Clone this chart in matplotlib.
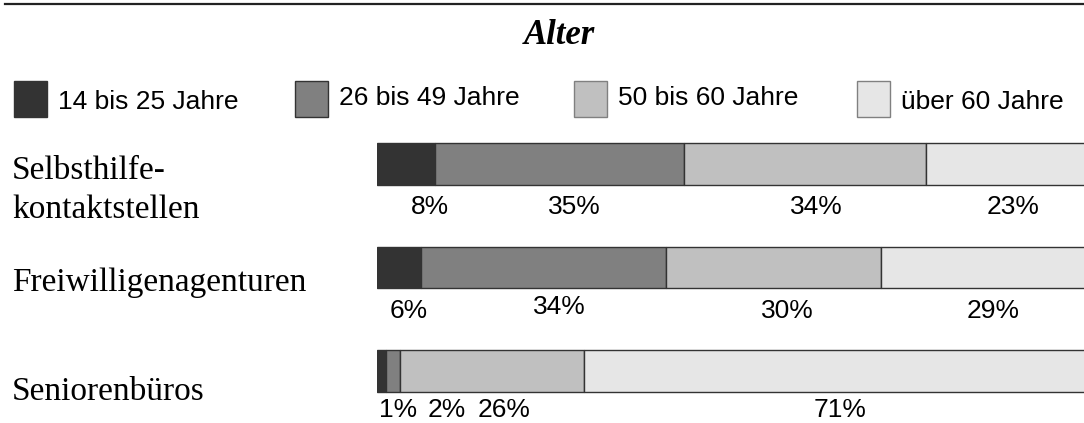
import matplotlib.pyplot as plt
from matplotlib.patches import Rectangle
from matplotlib.lines import Line2D
from matplotlib.transforms import blended_transform_factory

# Daten (Anteile in Prozent)
kategorien = ['Selbsthilfe-\nkontaktstellen', 'Freiwilligenagenturen', 'Seniorenbüros']
altersgruppen = ['14 bis 25 Jahre', '26 bis 49 Jahre', '50 bis 60 Jahre', 'über 60 Jahre']
jahre_14_25 = [8.1, 6.2, 1.3]
jahre_26_49 = [35.0, 34.4, 2.0]
jahre_50_60 = [34.0, 30.2, 25.8]
ueber_60 = [22.9, 29.2, 70.9]

farben = ['#333333', '#808080', '#c0c0c0', '#e6e6e6']
randfarben = ['#333333', '#333333', '#808080', '#808080']

# Verschiebung der Prozentbeschriftungen (wie im Original von Hand gesetzt)
label_dx = [[3.4, 2.1, 1.6, 0.8],
            [1.3, 2.2, 1.9, 1.1],
            [2.3, 7.5, 1.6, 0.5]]
label_dy = [[0, 0, 0, 0],
            [0, -0.04, 0, 0],
            [-0.04, -0.04, -0.04, -0.04]]

W, H = 1084, 423
fig = plt.figure(figsize=(W / 100, H / 100), dpi=100)

ax = fig.add_axes([377 / W, 0, 1 - 377 / W, (H - 112.25) / H])
ax.set_xlim(0, 99.3)
ax.set_ylim(2.5, -0.5)
ax.axis('off')

reihen = [jahre_14_25, jahre_26_49, jahre_50_60, ueber_60]
links = [0.0] * len(kategorien)
for j, werte in enumerate(reihen):
    ax.barh(range(len(kategorien)), werte, left=links, height=0.4,
            color=farben[j], edgecolor='#333333', linewidth=1.0)
    for i, v in enumerate(werte):
        x = links[i] + v / 2 + label_dx[i][j]
        ax.text(x, i + 0.485 + label_dy[i][j], f'{round(v)}%',
                ha='center', va='baseline', fontsize=19,
                family='Liberation Sans', color='black')
    links = [l + v for l, v in zip(links, werte)]

# Kategorienamen links
trans = blended_transform_factory(fig.transFigure, ax.transData)
namen_dy = [0.25, 0.15, 0.2]
for i, name in enumerate(kategorien):
    ax.text(12 / W, i + namen_dy[i], name, transform=trans, ha='left',
            va='center', fontsize=24, family='Liberation Serif',
            linespacing=1.35)

# Titel und Linie oben
fig.add_artist(Line2D([5 / W, 1], [1 - 4.5 / H] * 2, lw=1.6, color='#222222'))
fig.text(559 / W, 1 - 35 / H, 'Alter', ha='center', va='center', fontsize=25,
         family='Liberation Serif', style='italic', weight='bold')

# Legende
box_x = [14, 295, 574, 857]
text_base = [109, 105, 105, 109]
for k, name in enumerate(altersgruppen):
    fig.add_artist(Rectangle((box_x[k] / W, 1 - 117 / H), 33 / W, 36 / H,
                             transform=fig.transFigure, facecolor=farben[k],
                             edgecolor=randfarben[k], lw=1.0))
    fig.text((box_x[k] + 44) / W, 1 - text_base[k] / H, name, ha='left',
             va='baseline', fontsize=19, family='Liberation Sans')

fig.savefig('out.png', dpi=100)
